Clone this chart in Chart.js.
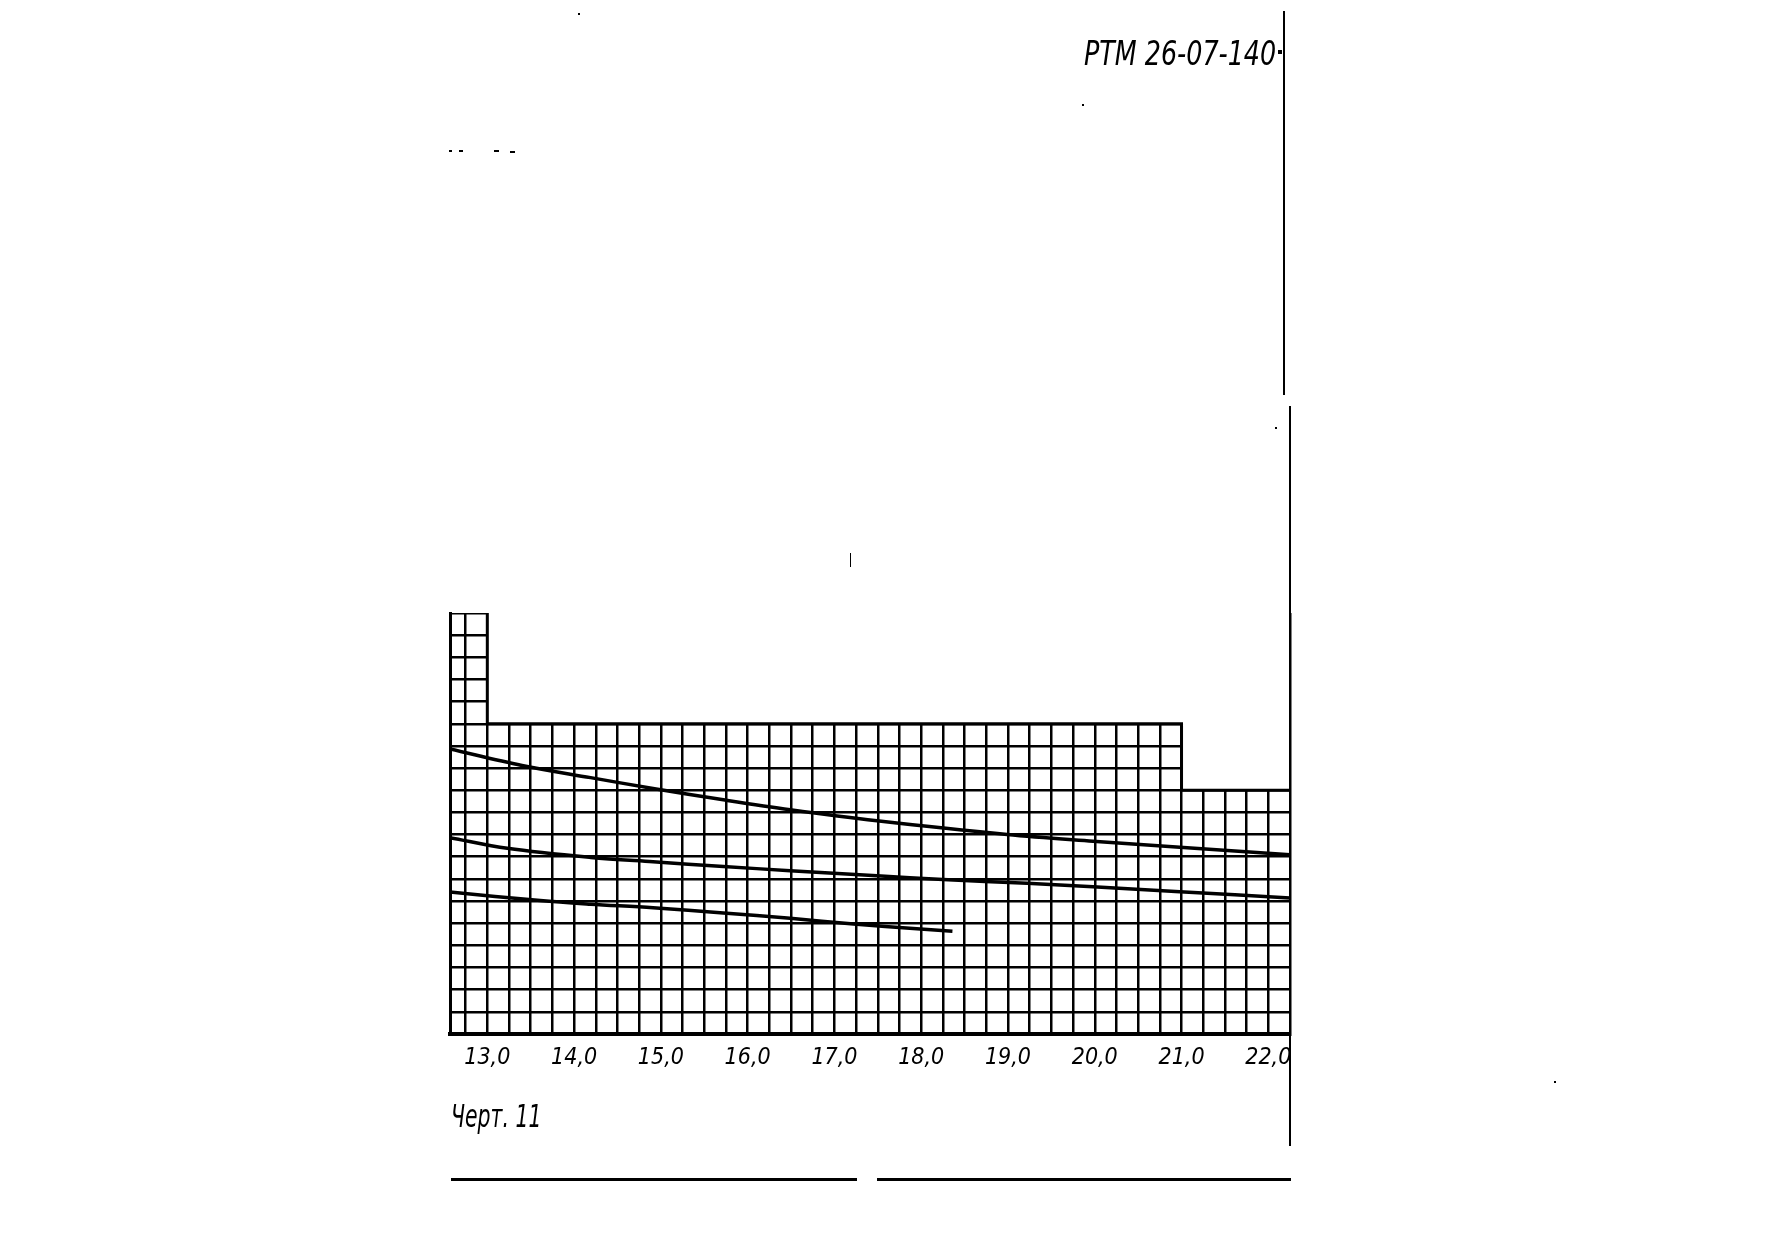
<!DOCTYPE html>
<html>
<head>
<meta charset="utf-8">
<script src="https://cdn.jsdelivr.net/npm/chart.js@4.4.0/dist/chart.umd.min.js"></script>
<style>
  html, body { margin:0; padding:0; background:#fff; }
  body { width:1768px; height:1259px; position:relative; overflow:hidden; }
  #chart { position:absolute; left:0; top:0; }
  .hand { position:absolute; font-family:'Liberation Sans Narrow','DejaVu Sans Condensed','Liberation Sans',sans-serif; font-style:italic; color:#000; white-space:nowrap; line-height:1; transform-origin:0 0; }
  .rule { position:absolute; background:#000; }
</style>
</head>
<body>
<canvas id="chart" width="1768" height="1259"></canvas>

<div class="hand" style="left:1084px;top:36px;font-size:34px;transform:scaleX(0.83);">РТМ 26-07-140</div>
<div class="hand" style="left:451px;top:1100px;font-size:32px;transform:scaleX(0.71);">Черт. 11</div>

<!-- page edge, bottom rules and a few specks from the scan -->
<div class="rule" style="left:1283px;top:11px;width:2px;height:384px;"></div>
<div class="rule" style="left:1289px;top:406px;width:2px;height:740px;"></div>
<div class="rule" style="left:451px;top:1178px;width:406px;height:3px;"></div>
<div class="rule" style="left:877px;top:1178px;width:414px;height:3px;"></div>
<div class="rule" style="left:1278px;top:50px;width:4px;height:4px;"></div>
<div class="rule" style="left:449px;top:150px;width:3px;height:2px;"></div>
<div class="rule" style="left:459px;top:150px;width:4px;height:2px;"></div>
<div class="rule" style="left:494px;top:150px;width:5px;height:2px;"></div>
<div class="rule" style="left:510px;top:151px;width:5px;height:2px;"></div>
<div class="rule" style="left:578px;top:13px;width:2px;height:2px;"></div>
<div class="rule" style="left:1082px;top:104px;width:2px;height:2px;"></div>
<div class="rule" style="left:1275px;top:427px;width:2px;height:2px;"></div>
<div class="rule" style="left:850px;top:553px;width:1px;height:14px;"></div>
<div class="rule" style="left:1554px;top:1081px;width:2px;height:2px;"></div>

<script>
// upper curve
var xTop = [12.57, 13.40, 14.19, 14.91, 15.72, 16.49, 17.49, 18.99, 19.98, 20.98, 22.25];
var yTop = [12.86, 12.12, 11.57, 11.08, 10.57, 10.12, 9.62, 9.00, 8.70, 8.43, 8.09];
// middle curve
var xMid = [12.57, 13.23, 14.19, 14.91, 15.72, 16.49, 17.49, 18.25, 19.22, 19.98, 20.98, 22.25];
var yMid = [8.86, 8.38, 7.97, 7.77, 7.56, 7.37, 7.14, 6.97, 6.80, 6.64, 6.42, 6.14];
// lower curve (stops near 18,4)
var xLow = [12.57, 13.61, 14.19, 14.91, 15.72, 16.49, 17.22, 17.95, 18.36];
var yLow = [6.41, 6.02, 5.86, 5.70, 5.46, 5.22, 4.96, 4.75, 4.64];
// top of the ruled field, in grid cells (stepped)
var fieldX = [12.57, 13.0, 13.0, 21.0, 21.0, 22.25];
var fieldY = [19, 19, 14, 14, 11, 11];
// x axis labels
var tickValues = [13, 14, 15, 16, 17, 18, 19, 20, 21, 22];
var tickLabels = ['13,0', '14,0', '15,0', '16,0', '17,0', '18,0', '19,0', '20,0', '21,0', '22,0'];

function pts(xs, ys) {
    var out = [];
    for (var i = 0; i < xs.length; i++) out.push({x: xs[i], y: ys[i]});
    return out;
}

var curveStyle = {
    borderColor: '#000',
    borderWidth: 3.5,
    pointRadius: 0,
    fill: false,
    tension: 0.35
};

new Chart(document.getElementById('chart'), {
    type: 'line',
    data: {
        datasets: [
            Object.assign({label: 'a', data: pts(xTop, yTop)}, curveStyle),
            Object.assign({label: 'b', data: pts(xMid, yMid)}, curveStyle),
            Object.assign({label: 'c', data: pts(xLow, yLow)}, curveStyle),
            {
                // white cover above the ruled field + its outline
                label: 'field',
                data: pts(fieldX, fieldY),
                borderColor: '#000',
                borderWidth: 3,
                backgroundColor: '#fff',
                pointRadius: 0,
                tension: 0,
                fill: 'end'
            }
        ]
    },
    options: {
        responsive: false,
        animation: false,
        devicePixelRatio: 1,
        layout: { padding: { left: 450, top: 613, right: 478, bottom: 180 } },
        plugins: { legend: { display: false }, tooltip: { enabled: false } },
        scales: {
            x: {
                type: 'linear',
                min: 12.57,
                max: 22.25,
                afterBuildTicks: function(scale) {
                    var t = [];
                    for (var k = 51; k <= 89; k++) t.push({value: k / 4});
                    scale.ticks = t;
                },
                afterFit: function(scale) { scale.height = 45; },
                grid: { color: '#000', lineWidth: 2.5, drawTicks: false },
                border: { color: '#000', width: 4 },
                ticks: {
                    autoSkip: false,
                    maxRotation: 0,
                    padding: 10,
                    color: '#000',
                    font: { family: "'Liberation Sans Narrow','DejaVu Sans Condensed','Liberation Sans',sans-serif", size: 23, style: 'italic' },
                    callback: function(value) {
                        var i = tickValues.indexOf(value);
                        return i >= 0 ? tickLabels[i] : '';
                    }
                }
            },
            y: {
                type: 'linear',
                min: 0,
                max: 19,
                afterBuildTicks: function(scale) {
                    var t = [];
                    for (var k = 0; k <= 19; k++) t.push({value: k});
                    scale.ticks = t;
                },
                afterFit: function(scale) { scale.width = 0; },
                grid: {
                    drawTicks: false,
                    lineWidth: 2.5,
                    color: function(ctx) { return ctx.tick && ctx.tick.value === 19 ? 'rgba(0,0,0,0)' : '#000'; }
                },
                border: { color: '#000', width: 3 },
                ticks: { display: false }
            }
        }
    }
});
</script>
</body>
</html>
